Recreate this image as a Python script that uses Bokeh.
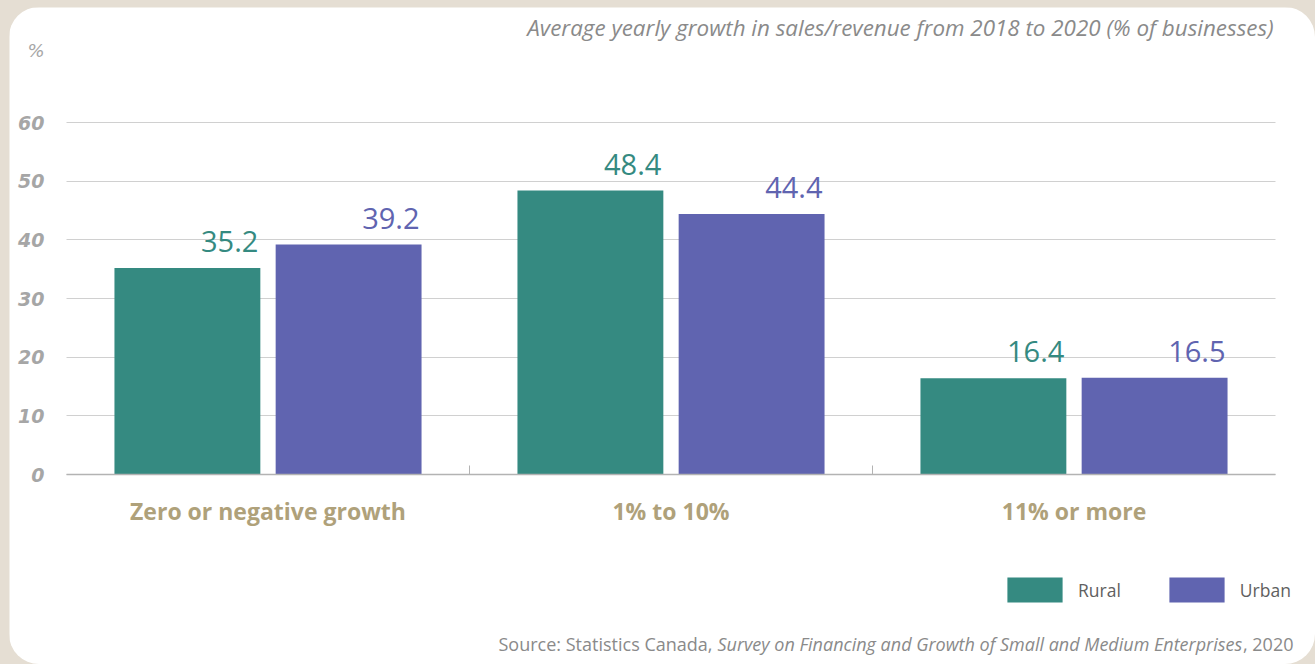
from bokeh.plotting import figure
from bokeh.models import (ColumnDataSource, Range1d, FixedTicker, LabelSet, Label,
                          Legend, LegendItem)
from bokeh.layouts import column
from bokeh.core.properties import value
from bokeh.embed import file_html
from bokeh.resources import INLINE

# ---- data ----
categories = ["Zero or negative growth", "1% to 10%", "11% or more"]
rural = [35.2, 48.4, 16.4]
urban = [39.2, 44.4, 16.5]
y_ticks = [0, 10, 20, 30, 40, 50, 60]
title_text = "Average yearly growth in sales/revenue from 2018 to 2020 (% of businesses)"
source_plain = "Source: Statistics Canada, "
source_italic = "Survey on Financing and Growth of Small and Medium Enterprises"
source_end = ", 2020"

TEAL = "#358a81"
PURPLE = "#6064b0"
FONT = "Open Sans"

# ---- layout (pixels inside the card) ----
W, H = 1306, 657
X0_PX, X3_PX = 57, 1266        # where x=0 and x=3 fall
Y0_PX, Y60_PX = 467, 115       # where y=0 and y=60 fall (from top)
xs = (X3_PX - X0_PX) / 3.0
ys = (Y0_PX - Y60_PX) / 60.0
x_range = Range1d(-X0_PX / xs, 3 + (W - X3_PX) / xs)
y_range = Range1d(-(H - Y0_PX) / ys, 60 + Y60_PX / ys)

BAR_W = 0.362
OFF = 0.2
idx = list(range(len(categories)))
src_r = ColumnDataSource(dict(x=[i + 0.5 - OFF for i in idx], xr=[i + 0.5 - OFF + BAR_W / 2 for i in idx],
                              top=rural, lab=[f"{v:.1f}" for v in rural]))
src_u = ColumnDataSource(dict(x=[i + 0.5 + OFF for i in idx], xr=[i + 0.5 + OFF + BAR_W / 2 for i in idx],
                              top=urban, lab=[f"{v:.1f}" for v in urban]))

p = figure(width=W, height=H, output_backend="svg", toolbar_location=None,
           x_range=x_range, y_range=y_range,
           min_border_left=0, min_border_right=0, min_border_top=0, min_border_bottom=0)
p.border_fill_color = "white"
p.background_fill_color = "white"
p.outline_line_color = None

r1 = p.vbar(x="x", top="top", width=BAR_W, source=src_r, color=TEAL, line_color=None)
r2 = p.vbar(x="x", top="top", width=BAR_W, source=src_u, color=PURPLE, line_color=None)

# value labels
for s, c in ((src_r, TEAL), (src_u, PURPLE)):
    p.add_layout(LabelSet(x="xr", y="top", text="lab", source=s, text_align="right",
                          text_baseline="alphabetic", x_offset=-2, y_offset=16,
                          text_font=value(FONT), text_font_size=value("29px"), text_color=value(c)))

# axes (drawn inside the frame at x=0 / y=0)
xa = p.xaxis[0]
xa.fixed_location = 0
xa.bounds = (0, 3)
xa.ticker = FixedTicker(ticks=[i + 0.5 for i in idx], minor_ticks=[1, 2])
xa.major_label_overrides = {i + 0.5: c for i, c in zip(idx, categories)}
xa.major_label_text_font = FONT
xa.major_label_text_font_style = "bold"
xa.major_label_text_font_size = "23px"
xa.major_label_text_color = "#afa17a"
xa.major_label_standoff = 14
xa.axis_line_color = "#b3b3b3"
xa.axis_line_width = 1.5
xa.major_tick_line_color = None
xa.minor_tick_line_color = "#b3b3b3"
xa.minor_tick_in = 9
xa.minor_tick_out = 0

ya = p.yaxis[0]
ya.fixed_location = 0
ya.bounds = (0, 60)
ya.ticker = FixedTicker(ticks=y_ticks)
ya.axis_line_color = None
ya.major_tick_line_color = None
ya.minor_tick_line_color = None
ya.major_label_text_font = "DejaVu Sans"
ya.major_label_text_font_style = "bold italic"
ya.major_label_text_font_size = "19px"
ya.major_label_text_color = "#a6a6a6"
ya.major_label_standoff = 16

p.xgrid.grid_line_color = None
p.ygrid.grid_line_color = "#d0d0d0"
p.ygrid.grid_line_width = 1.2
p.ygrid.bounds = (0, 60)
p.ygrid.cross_bounds = (0, 3)

# texts (screen units from the card's bottom-left)
def lab(x, y, text, align="left", style="normal", size="18px", color="#8a8a8a", font=FONT):
    p.add_layout(Label(x=x, y=y, x_units="screen", y_units="screen", text=text,
                       text_align=align, text_baseline="alphabetic", text_font=font,
                       text_font_style=style, text_font_size=size, text_color=color))

lab(1264, 637, title_text, align="right", style="italic", size="22.4px", color="#8a8a8a")
lab(18, 614, "%", style="italic", size="18px", color="#a6a6a6", font="DejaVu Sans")
lab(489, 21, source_plain)
lab(708, 21, source_italic, style="italic")
lab(1284, 21, source_end, align="right")

# legend
legend = Legend(items=[LegendItem(label="Rural", renderers=[r1]), LegendItem(label="Urban", renderers=[r2])],
                orientation="horizontal", location=(991, 59), glyph_width=69, glyph_height=31,
                label_text_font=FONT, label_text_font_size="17.5px", label_text_color="#606060",
                label_standoff=9, spacing=41, padding=0, margin=0,
                border_line_color=None, background_fill_alpha=0)
p.add_layout(legend)

p.styles = {"border-radius": "30px", "overflow": "hidden"}
layout = column(p, width=1315, height=664,
                styles={"background-color": "#e5ded3", "padding": "7px 0 0 9px", "box-sizing": "border-box"})

open("out.html", "w").write(file_html(layout, INLINE))
